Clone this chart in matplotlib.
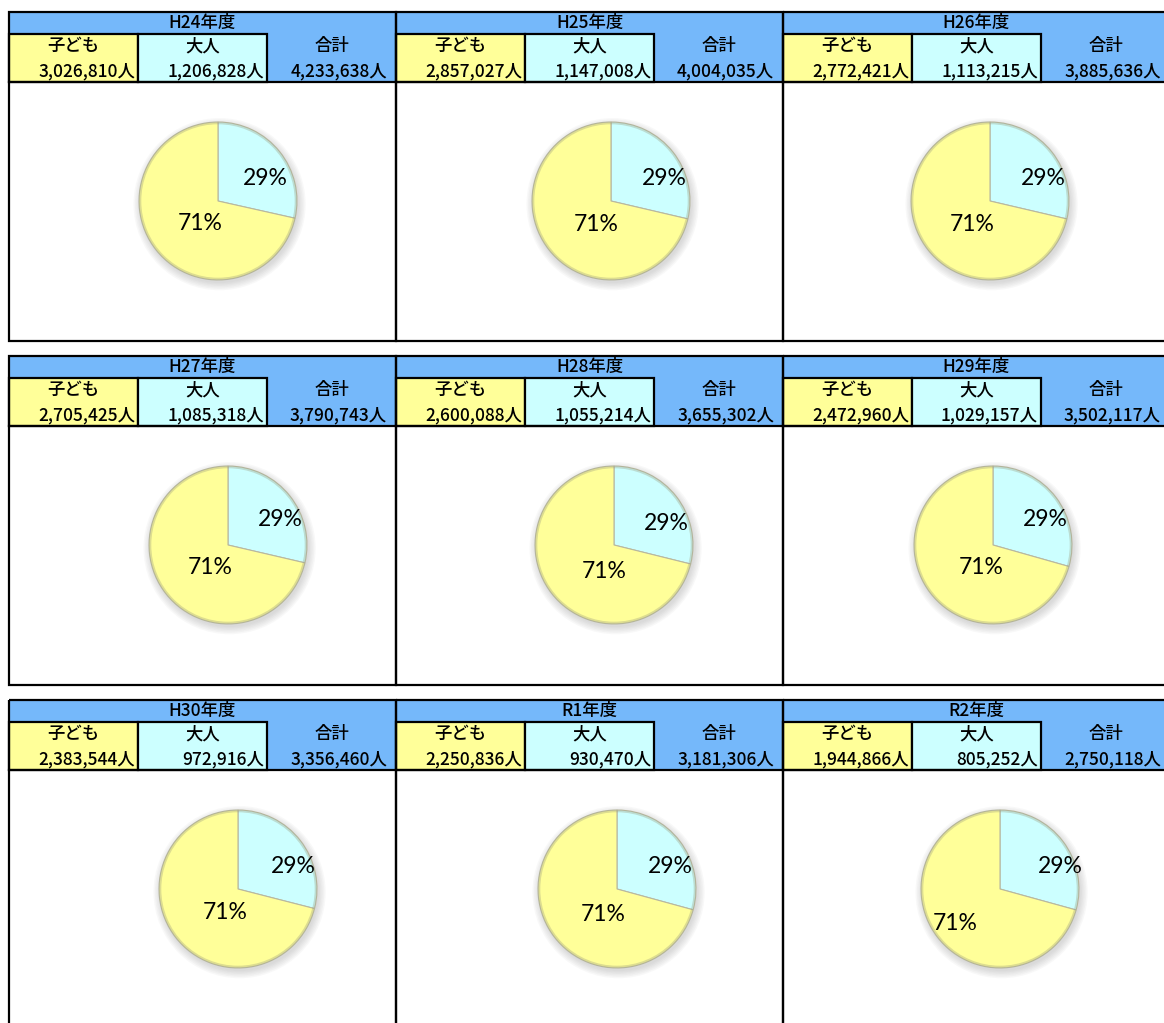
import matplotlib
matplotlib.use('Agg')
import matplotlib.pyplot as plt
from matplotlib.patches import Rectangle, Circle

plt.rcParams['font.family'] = ['Noto Sans CJK JP', 'DejaVu Sans']

# data
years = ['H24年度', 'H25年度', 'H26年度', 'H27年度', 'H28年度', 'H29年度',
         'H30年度', 'R1年度', 'R2年度']
children = [3026810, 2857027, 2772421, 2705425, 2600088, 2472960,
            2383544, 2250836, 1944866]
adults = [1206828, 1147008, 1113215, 1085318, 1055214, 1029157,
          972916, 930470, 805252]
totals = [4233638, 4004035, 3885636, 3790743, 3655302, 3502117,
          3356460, 3181306, 2750118]
col_labels = ['子ども', '大人', '合計']

# colours
c_blue = '#75B8FA'
c_yellow = '#FFFF99'
c_cyan = '#CCFFFF'

# layout (pixels)
W, H = 1164, 1023
col_x = [9, 396, 783]
row_y = [12, 356, 700]
panel_w, panel_h = 387, 329
title_h, cell_h = 22, 48
cell_w = 129
pie_r = 79
pie_dx = [209, 215, 207, 219, 218, 210, 229, 221, 217]
pie_dy = 189
lab29 = [(0.60, 0.29), (0.68, 0.29), (0.67, 0.29), (0.66, 0.32), (0.66, 0.27),
         (0.66, 0.32), (0.70, 0.29), (0.68, 0.29), (0.76, 0.29)]
lab71 = [(-0.23, -0.29), (-0.19, -0.30), (-0.23, -0.30), (-0.23, -0.29),
         (-0.13, -0.34), (-0.15, -0.29), (-0.16, -0.30), (-0.18, -0.32),
         (-0.57, -0.44)]

fig = plt.figure(figsize=(W / 100, H / 100), dpi=100)
bg = fig.add_axes([0, 0, 1, 1])
bg.set_xlim(0, W)
bg.set_ylim(H, 0)
bg.axis('off')

lw = 1.6
fs = 12.5
for i in range(9):
    x0 = col_x[i % 3]
    y0 = row_y[i // 3]
    # title + total block in blue
    bg.add_patch(Rectangle((x0, y0), panel_w, title_h + cell_h,
                           facecolor=c_blue, edgecolor='none', zorder=1))
    bg.add_patch(Rectangle((x0, y0 + title_h), cell_w, cell_h,
                           facecolor=c_yellow, edgecolor='black', lw=lw, zorder=2))
    bg.add_patch(Rectangle((x0 + cell_w, y0 + title_h), cell_w, cell_h,
                           facecolor=c_cyan, edgecolor='black', lw=lw, zorder=2))
    # outer frame
    bg.add_patch(Rectangle((x0, y0), panel_w, panel_h, facecolor='none',
                           edgecolor='black', lw=lw, zorder=3))
    bg.plot([x0, x0 + panel_w], [y0 + title_h + cell_h] * 2, color='black',
            lw=lw, zorder=3)

    bg.text(x0 + panel_w / 2, y0 + title_h / 2, years[i], ha='center',
            va='center', fontsize=fs, fontweight='medium', zorder=4)
    vals = [children[i], adults[i], totals[i]]
    for j in range(3):
        cx = x0 + cell_w * j
        bg.text(cx + cell_w / 2, y0 + title_h + 12, col_labels[j],
                ha='center', va='center', fontsize=fs, fontweight='medium',
                zorder=4)
        rx = cx + cell_w - 3 if j < 2 else x0 + panel_w - 9
        bg.text(rx, y0 + title_h + 37, f'{vals[j]:,}人',
                ha='right', va='center', fontsize=fs, fontweight='medium',
                zorder=4)

    # pie
    pcx = x0 + pie_dx[i]
    pcy = y0 + pie_dy
    m = 1.15
    ax = fig.add_axes([(pcx - pie_r * m) / W, 1 - (pcy + pie_r * m) / H,
                       2 * pie_r * m / W, 2 * pie_r * m / H])
    ax.axis('off')
    # soft shadow
    for k in range(6):
        ax.add_patch(Circle((0.02, -0.04), 1.0 + 0.018 * k, facecolor='#808080',
                            edgecolor='none', alpha=0.05, zorder=0))
    wedges, _, autotexts = ax.pie(
        [adults[i], children[i]], colors=[c_cyan, c_yellow], startangle=90,
        counterclock=False, autopct='%.0f%%', radius=1.0,
        wedgeprops=dict(edgecolor='#B8B8A0', linewidth=0.8),
        textprops=dict(fontsize=16.5, family=['Lato', 'DejaVu Sans']))
    # bevel-ish rim
    ax.add_patch(Circle((0, 0), 0.985, facecolor='none', edgecolor='#9E9E80',
                        lw=1.6, alpha=0.35, zorder=2))
    ax.set_xlim(-m, m)
    ax.set_ylim(-m, m)
    ax.set_aspect('equal')
    for w in wedges:
        w.set_zorder(1)
    autotexts[0].set_position(lab29[i])
    autotexts[1].set_position(lab71[i])
    for t in autotexts:
        t.set_zorder(5)

fig.savefig('out.png', dpi=100)
